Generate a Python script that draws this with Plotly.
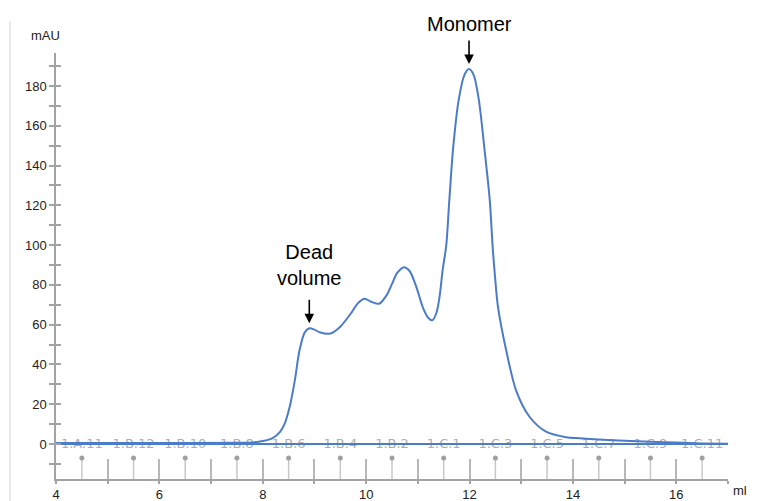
import plotly.graph_objects as go

# UV trace (ml, mAU)
volume = [4.0, 6.0, 7.5, 7.8, 8.0, 8.19, 8.33, 8.42, 8.52, 8.62, 8.71, 8.81, 8.9,
          9.0, 9.1, 9.3, 9.5, 9.7, 9.85, 9.97, 10.1, 10.25, 10.4, 10.5, 10.6,
          10.72, 10.84, 10.97, 11.1, 11.2, 11.28, 11.36, 11.42, 11.48, 11.55,
          11.61, 11.68, 11.79, 11.9, 11.99, 12.08, 12.18, 12.29, 12.39, 12.45,
          12.5, 12.55, 12.71, 12.9, 13.16, 13.48, 13.87, 14.13, 14.5, 15.0, 15.5,
          16.0, 16.5, 17.0]
uv = [0.5, 0.5, 0.6, 0.8, 1.5, 3.0, 6.0, 10.0, 18.6, 32.0, 47.0, 56.0, 58.2,
      57.5, 56.2, 55.5, 59.0, 65.5, 71.0, 73.0, 71.5, 70.5, 75.0, 80.5, 86.0,
      88.8, 87.0, 79.0, 68.5, 63.5, 62.2, 66.0, 74.0, 87.5, 100.0,
      123.0, 148.0, 173.0, 185.5, 188.5, 185.5, 173.0, 148.0, 123.0, 98.0,
      82.0, 69.0, 47.0, 27.0, 13.7, 6.2, 3.4, 2.9, 2.3, 1.6, 1.1,
      0.7, 0.3, 0.1]

# flat reference line
base_x = [4.0, 17.0]
base_y = [0.0, 0.0]

# fractions
frac_pos = [4.5, 5.5, 6.5, 7.5, 8.5, 9.5, 10.5, 11.5, 12.5, 13.5, 14.5, 15.5, 16.5]
frac_lab = ['1.A.11', '1.B.12', '1.B.10', '1.B.8', '1.B.6', '1.B.4', '1.B.2',
            '1.C.1', '1.C.3', '1.C.5', '1.C.7', '1.C.9', '1.C.11']

Y_MIN, Y_MAX = -17.6, 196.6
MARK_TOP = -7.0
LABEL_Y = -0.6

blue = '#4a7cc7'
axcol = '#a3a3a3'
font = 'Liberation Sans, Arial, sans-serif'

fig = go.Figure()

# fraction labels (under the lines)
fig.add_trace(go.Scatter(x=frac_pos, y=[LABEL_Y] * len(frac_pos), mode='text',
                         text=frac_lab, textposition='middle center',
                         textfont=dict(size=13, color='#adadad', family='DejaVu Sans'),
                         hoverinfo='skip'))

# fraction marker stems + dots
stem_x, stem_y = [], []
for p in frac_pos:
    stem_x += [p, p, None]
    stem_y += [Y_MIN, MARK_TOP, None]
fig.add_trace(go.Scatter(x=stem_x, y=stem_y, mode='lines',
                         line=dict(color='#c8c8c8', width=1.5), hoverinfo='skip'))
fig.add_trace(go.Scatter(x=frac_pos, y=[MARK_TOP] * len(frac_pos), mode='markers',
                         marker=dict(color='#a0a0a0', size=5), hoverinfo='skip'))

fig.add_trace(go.Scatter(x=base_x, y=base_y, mode='lines', xaxis='x2', yaxis='y2',
                         line=dict(color=blue, width=2), hoverinfo='skip'))

fig.add_trace(go.Scatter(x=volume, y=uv, mode='lines',
                         line=dict(color=blue, width=2, shape='spline', smoothing=0.8)))

# arrows + labels pointing at peaks
i_mono = uv.index(max(uv))
i_dead = 12
for i, txt, shift in [(i_mono, 'Monomer', 45), (i_dead, 'Dead<br>volume', 63)]:
    fig.add_annotation(x=volume[i], y=uv[i], text='', showarrow=True, ax=0, ay=-25,
                       yshift=5, arrowhead=2, arrowsize=1.2, arrowwidth=1.6,
                       arrowcolor='black')
    fig.add_annotation(x=volume[i], y=uv[i], text=txt, showarrow=False, yshift=shift,
                       font=dict(size=20, color='black', family=font))

fig.add_annotation(x=-0.016, y=1.042, xref='paper', yref='paper', text='mAU',
                   showarrow=False, xanchor='center', yanchor='middle',
                   font=dict(size=13, color='#222', family=font))
fig.add_annotation(x=1.0312, y=-0.026, xref='paper', yref='paper', text='ml',
                   showarrow=False, xanchor='right', yanchor='middle',
                   font=dict(size=13, color='#222', family=font))

fig.add_shape(type='line', xref='paper', yref='paper', x0=-0.0685, x1=-0.0685,
              y0=-0.06, y1=1.075, line=dict(color='#d6d6d6', width=1))

# the page body adds an 8px offset, so the figure is sized to fit inside it
fig.update_layout(
    width=741, height=493,
    margin=dict(l=48, r=21, t=45, b=22, autoexpand=False),
    plot_bgcolor='white', paper_bgcolor='white',
    showlegend=False,
    font=dict(family=font, size=13, color='#222'),
    xaxis=dict(range=[4, 17], showline=True, linecolor=axcol, linewidth=1.5,
               ticks='outside', ticklen=3, tickcolor=axcol, tickwidth=1.5,
               tick0=4, dtick=2, showgrid=False, zeroline=False, automargin=False,
               minor=dict(ticks='outside', dtick=1, tick0=4, ticklen=3,
                          tickcolor=axcol, tickwidth=1.5, showgrid=False)),
    xaxis2=dict(overlaying='x', matches='x', anchor='y', ticks='inside', ticklen=20,
                tick0=4, dtick=1, tickcolor='#b8b8b8', tickwidth=1.5, automargin=False,
                showticklabels=False, showline=False, showgrid=False, zeroline=False),
    yaxis=dict(range=[Y_MIN, Y_MAX], showline=True, linecolor=axcol, linewidth=1.5,
               ticks='outside', ticklen=5, tickcolor=axcol, tickwidth=1.5,
               tick0=0, dtick=20, showgrid=False, zeroline=False, automargin=False,
               minor=dict(ticks='outside', dtick=10, tick0=0, ticklen=5,
                          tickcolor=axcol, tickwidth=1.5, showgrid=False)),
    yaxis2=dict(overlaying='y', matches='y', anchor='x', ticks='inside', ticklen=5,
                tick0=0, dtick=10, tickcolor=axcol, tickwidth=1.5, automargin=False,
                showticklabels=False, showline=False, showgrid=False, zeroline=False),
)

fig.write_html('out.html')
